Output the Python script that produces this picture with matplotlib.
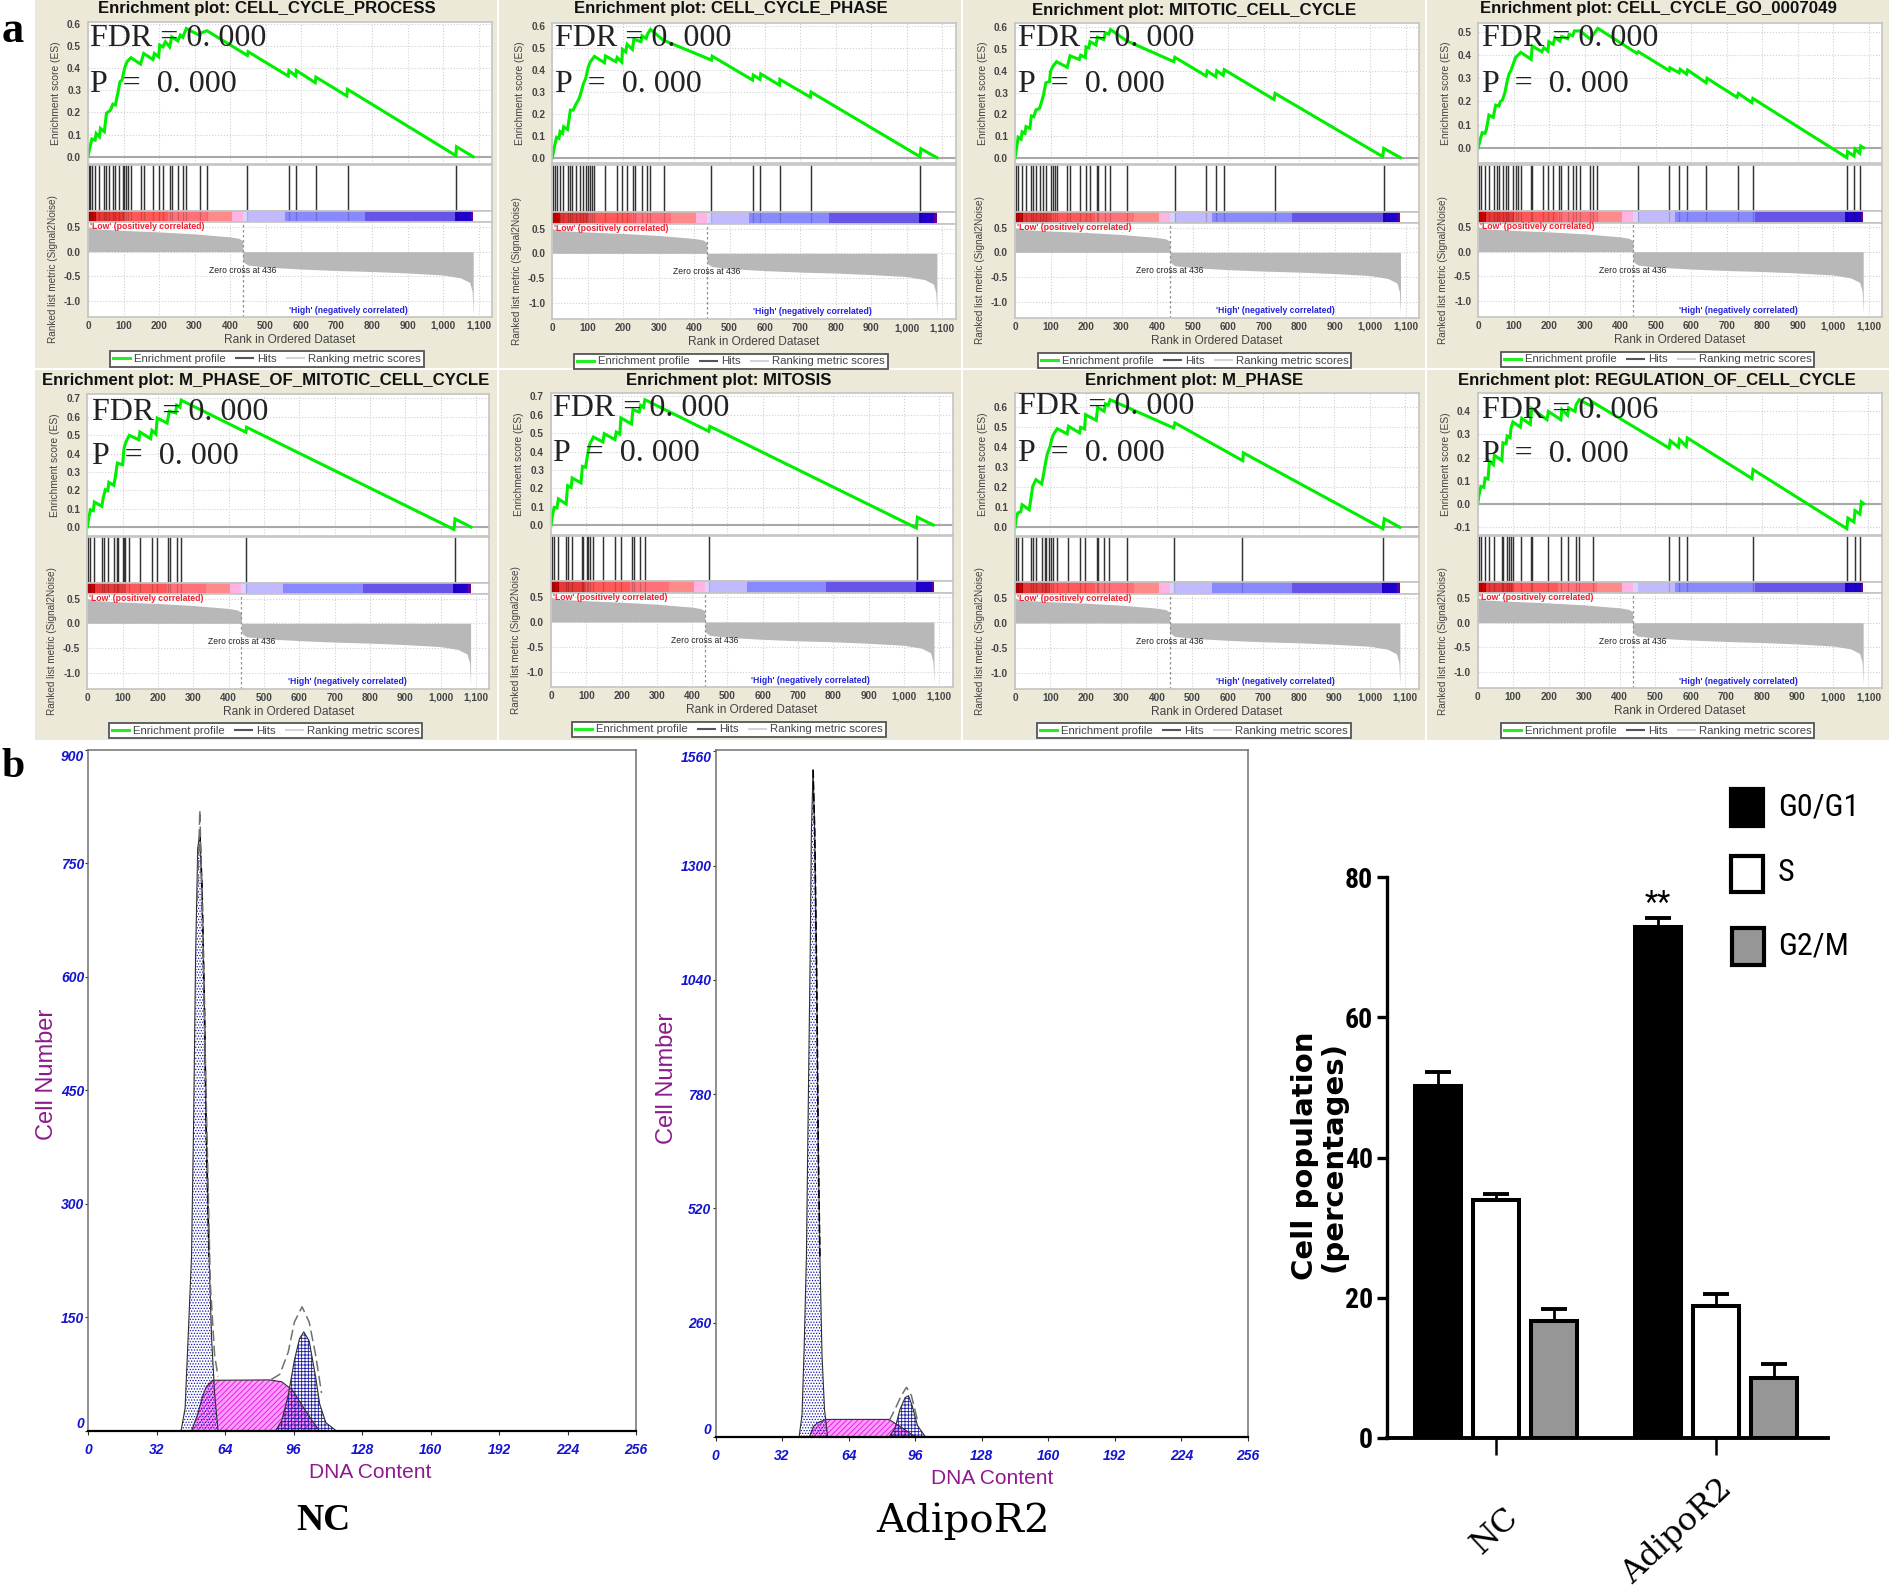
import matplotlib
matplotlib.use('Agg')
import matplotlib.pyplot as plt
from matplotlib import font_manager
from matplotlib.lines import Line2D
from matplotlib.patches import Rectangle
from matplotlib.ticker import FuncFormatter

W, H = 1889, 1593

# ---- panel a
TITLES = ['CELL_CYCLE_PROCESS', 'CELL_CYCLE_PHASE', 'MITOTIC_CELL_CYCLE', 'CELL_CYCLE_GO_0007049',
          'M_PHASE_OF_MITOTIC_CELL_CYCLE', 'MITOSIS', 'M_PHASE', 'REGULATION_OF_CELL_CYCLE']
FDR = ['0. 000', '0. 000', '0. 000', '0. 000', '0. 000', '0. 000', '0. 000', '0. 006']
PVAL = ['0. 000'] * 8

ES_PROCESS = [(0, 0), (5, .04), (11, .08), (20, .075), (23, .105), (32, .09), (35, .128), (46, .113), (52, .197),
              (63, .21), (70, .238), (77, .234), (84, .286), (90, .339), (96, .347), (103, .40), (110, .43), (121, .448),
              (148, .419), (157, .467), (183, .44), (187, .467), (199, .452), (202, .505), (211, .497), (218, .52),
              (230, .497), (236, .542), (253, .524), (260, .55), (267, .54), (277, .58), (315, .548), (318, .56),
              (335, .57), (449, .458), (451, .475), (564, .365), (566, .39), (585, .365), (587, .39), (640, .335),
              (642, .36), (729, .275), (731, .305), (1036, .005), (1038, .045), (1085, 0)]
ES_PHASE = [(0, 0), (6, .05), (12, .093), (19, .088), (22, .119), (29, .111), (32, .141), (43, .129), (51, .217),
            (59, .217), (67, .245), (74, .264), (79, .286), (88, .339), (94, .36), (102, .416), (108, .439), (119, .462),
            (147, .433), (150, .464), (179, .438), (183, .457), (196, .436), (198, .494), (207, .483), (211, .517),
            (226, .494), (230, .54), (250, .529), (253, .556), (265, .544), (268, .562), (277, .585), (313, .536),
            (449, .445), (451, .463), (565, .354), (567, .377), (586, .357), (588, .382), (641, .331), (642, .357),
            (728, .276), (730, .299), (1037, .005), (1040, .041), (1085, 0)]
ES_MITOTIC = [(0, 0), (5, .05), (9, .094), (17, .085), (20, .119), (28, .112), (31, .143), (42, .135), (46, .192),
              (53, .189), (59, .22), (69, .227), (75, .258), (80, .288), (87, .345), (97, .35), (100, .396), (106, .419),
              (117, .442), (147, .416), (155, .469), (181, .452), (185, .472), (198, .461), (200, .51), (208, .505),
              (211, .534), (228, .519), (232, .554), (250, .544), (254, .575), (264, .569), (269, .59), (314, .538),
              (447, .442), (450, .462), (538, .376), (541, .399), (565, .373), (568, .4), (586, .379), (589, .405),
              (729, .268), (732, .296), (1035, .005), (1038, .043), (1085, 0)]
ES_GO = [(0, 0), (5, .033), (11, .065), (19, .062), (23, .08), (30, .141), (42, .131), (49, .184), (58, .18), (62, .199),
         (68, .206), (75, .238), (81, .285), (87, .32), (92, .333), (99, .364), (105, .39), (120, .412), (149, .382),
         (152, .44), (179, .415), (185, .432), (196, .418), (199, .458), (211, .447), (216, .476), (230, .461), (235, .481),
         (252, .471), (256, .49), (266, .484), (271, .505), (287, .505), (315, .47), (337, .516), (447, .408), (451, .415),
         (538, .333), (540, .346), (566, .324), (569, .339), (587, .318), (590, .336), (642, .281), (645, .3), (729, .218),
         (733, .235), (771, .195), (774, .213), (1039, -.043), (1041, -.017), (1059, -.036), (1062, -.006), (1075, -.024),
         (1078, .007), (1086, 0)]
ES_MPHASE_MIT = [(0, 0), (4, .049), (9, .094), (17, .089), (20, .136), (41, .113), (45, .158), (51, .203), (58, .198),
                 (61, .243), (75, .227), (79, .267), (85, .348), (100, .339), (104, .43), (110, .466), (119, .499),
                 (146, .475), (149, .517), (179, .481), (183, .526), (194, .506), (198, .593), (226, .566), (232, .63),
                 (250, .621), (253, .663), (262, .652), (266, .69), (449, .516), (451, .543), (1038, -.013), (1041, .044),
                 (1086, 0)]
ES_MITOSIS = [(0, 0), (4, .051), (9, .096), (17, .093), (21, .142), (43, .114), (47, .214), (57, .205), (60, .256),
              (85, .229), (89, .319), (98, .314), (104, .387), (110, .441), (120, .479), (147, .452), (151, .497),
              (181, .465), (185, .506), (195, .495), (198, .583), (228, .55), (232, .628), (250, .615), (254, .651),
              (262, .64), (266, .682), (447, .51), (450, .537), (1035, -.016), (1038, .042), (1083, 0)]
ES_MPHASE = [(0, 0), (3, .043), (8, .072), (16, .077), (20, .113), (40, .088), (44, .133), (50, .205), (59, .238),
             (75, .217), (80, .26), (86, .322), (91, .367), (99, .405), (103, .438), (108, .463), (119, .493), (147, .467),
             (151, .505), (182, .472), (185, .5), (196, .492), (199, .563), (229, .535), (233, .6), (251, .58), (255, .617),
             (263, .61), (268, .638), (447, .497), (451, .522), (642, .333), (644, .372), (1037, -.007), (1041, .043),
             (1085, 0)]
ES_REG = [(0, 0), (4, .039), (9, .075), (17, .071), (21, .111), (29, .107), (33, .184), (44, .169), (47, .21), (68, .187),
          (71, .264), (80, .26), (83, .293), (91, .286), (94, .329), (99, .354), (120, .332), (124, .37), (148, .344),
          (152, .413), (195, .364), (199, .4), (234, .364), (237, .408), (253, .383), (256, .415), (274, .4), (277, .429),
          (286, .451), (322, .421), (324, .44), (539, .241), (542, .273), (565, .245), (568, .278), (587, .249), (590, .285),
          (772, .109), (775, .148), (1039, -.108), (1042, -.062), (1059, -.079), (1062, -.03), (1076, -.045), (1080, .007),
          (1086, 0)]

HITS_PROCESS = [2, 7, 11, 21, 32, 46, 52, 58, 70, 77, 86, 98, 102, 108, 112, 121, 150, 157, 183, 199, 211, 230, 236, 253,
                267, 277, 316, 335, 449, 566, 587, 642, 731, 1038]
HITS_PHASE = [3, 8, 14, 22, 31, 43, 50, 56, 67, 78, 87, 94, 100, 106, 111, 119, 149, 182, 198, 211, 229, 233, 252, 266,
              276, 315, 449, 566, 587, 642, 730, 1038]
HITS_MITOTIC = [3, 9, 19, 30, 44, 50, 59, 70, 78, 87, 100, 106, 113, 119, 147, 155, 183, 199, 211, 230, 235, 253, 266,
                316, 449, 538, 566, 587, 731, 1038]
HITS_GO = [3, 9, 19, 30, 44, 52, 58, 69, 78, 85, 99, 105, 111, 120, 148, 152, 181, 197, 211, 228, 233, 254, 266, 275, 286,
           315, 322, 335, 449, 538, 567, 587, 642, 731, 773, 1039, 1060, 1076]
HITS_MPHASE_MIT = [3, 9, 20, 43, 48, 59, 76, 85, 88, 100, 104, 108, 119, 148, 182, 198, 229, 234, 253, 266, 449, 1040]
HITS_MITOSIS = [2, 8, 21, 43, 49, 60, 87, 90, 101, 106, 110, 120, 148, 182, 198, 230, 235, 253, 266, 449, 1038]
HITS_MPHASE = [3, 9, 21, 44, 50, 59, 77, 84, 87, 97, 101, 108, 119, 148, 183, 197, 230, 235, 251, 265, 315, 447, 641, 1037]
HITS_REG = [3, 9, 21, 32, 45, 69, 72, 82, 88, 94, 99, 121, 150, 152, 198, 235, 254, 276, 284, 324, 539, 567, 589, 774,
            1040, 1061, 1077]

ES_ALL = [ES_PROCESS, ES_PHASE, ES_MITOTIC, ES_GO, ES_MPHASE_MIT, ES_MITOSIS, ES_MPHASE, ES_REG]
HITS_ALL = [HITS_PROCESS, HITS_PHASE, HITS_MITOTIC, HITS_GO, HITS_MPHASE_MIT, HITS_MITOSIS, HITS_MPHASE, HITS_REG]

# ranked metric, same for every panel
METRIC_POS_X = [0, 20, 100, 200, 300, 400, 425, 436]
METRIC_POS_Y = [.50, .46, .43, .40, .36, .30, .27, .22]
METRIC_NEG_X = [436, 440, 450, 500, 600, 700, 800, 900, 1000, 1050, 1075, 1082, 1085]
METRIC_NEG_Y = [-.16, -.22, -.27, -.31, -.35, -.38, -.40, -.43, -.47, -.53, -.62, -.80, -1.25]

BAND_EDGES = [0, 22, 100, 225, 335, 405, 436, 450, 555, 780, 1035, 1078, 1085]
BAND_COLORS = ['#cc0000', '#e83838', '#ff5858', '#ff7078', '#ff8a8a', '#ffb4e4', '#d8d4ff', '#c2baff', '#8888ff',
               '#6655e8', '#2200cc', '#660099']

# ---- panel b, flow cytometry histograms
NC_G1_X = [43.3, 45.2, 46.6, 48.2, 49.2, 50.1, 51.1, 52.1, 53.1, 54.3, 55, 56.4, 57.6, 59, 60.6]
NC_G1_Y = [0, 30, 122, 230, 410, 625, 770, 790, 720, 553, 410, 230, 122, 50, 0]
NC_S_X = [48.2, 51.1, 53.1, 55, 58, 84.6, 90.4, 95.4, 100.3, 105.2, 108.1]
NC_S_Y = [0, 22, 43, 58, 67, 67.5, 65, 54, 32, 11, 0]
NC_G2_X = [87.5, 90.4, 93.4, 96.3, 98.7, 100.7, 103.2, 106.2, 108.1, 111, 116]
NC_G2_Y = [0, 14, 47, 93.5, 122, 131, 119, 72, 36, 11, 0]
NC_FIT1_X = [50.9, 52.1, 53.1, 55, 57, 59, 60.6]
NC_FIT1_Y = [700, 820, 700, 446, 194, 100, 72]
NC_FIT2_X = [85.5, 89.5, 93.4, 96.3, 99.9, 103.2, 106.2, 109]
NC_FIT2_Y = [68, 75, 104, 144, 164, 144, 101, 50]

AD_G1_X = [40.2, 41.6, 42.6, 43.7, 44.5, 45.5, 46.1, 46.9, 47.7, 48.7, 49.4, 50.2, 51.2, 52.4, 53.9]
AD_G1_Y = [0, 51, 199, 409, 719, 1091, 1376, 1518, 1376, 1028, 656, 409, 187, 63, 0]
AD_S_X = [45.1, 47.1, 49, 53, 83.4, 87.3, 91.2, 96.1]
AD_S_Y = [0, 24, 32, 40, 40, 28, 16, 0]
AD_G2_X = [83.4, 86.3, 88.7, 91.2, 92.8, 94.7, 97.1, 101]
AD_G2_Y = [0, 20, 63, 90, 94, 69, 26, 0]
AD_FIT2_X = [83.4, 86.3, 89.3, 91.8, 94.2, 97.1]
AD_FIT2_Y = [36, 63, 94, 113, 94, 38]

NC_YTICKS = [0, 150, 300, 450, 600, 750, 900]
AD_YTICKS = [0, 260, 520, 780, 1040, 1300, 1560]
DNA_TICKS = [0, 32, 64, 96, 128, 160, 192, 224, 256]

# ---- panel b, bars
GROUPS = ['NC', 'AdipoR2']
PHASES = ['G0/G1', 'S', 'G2/M']
G0G1 = [50.2, 72.8]
S_PHASE = [33.9, 18.8]
G2M = [16.7, 8.6]
G0G1_ERR = [2.0, 1.4]
S_ERR = [0.9, 1.7]
G2M_ERR = [1.7, 2.0]
BAR_TICKS = [0, 20, 40, 60, 80]

# left, right, es_top, es_zero, es_rate, es_bottom, band_top, band_bottom, metric_bottom, metric_zero (pixels)
LAYOUT = [(88, 492, 22.5, 156.7, 221, 163.5, 210.7, 222.3, 316.7, 251.7),
          (552.3, 955.7, 22.7, 157.7, 219.3, 163.3, 212.3, 224, 319, 253.3),
          (1015, 1419.3, 23.3, 157.7, 217.3, 163.5, 212, 223.3, 317.7, 252.3),
          (1478.3, 1882, 22.7, 147.7, 231.3, 163.3, 211.3, 222.7, 317.3, 251.7),
          (87.3, 489.3, 394, 527, 183.7, 535.7, 582.7, 594, 688.7, 623.3),
          (551, 952.7, 393, 525, 183.7, 534.7, 581.3, 593, 687.3, 622),
          (1015, 1418.7, 393, 527.3, 200, 535.7, 582, 593.7, 688.7, 623),
          (1477.7, 1882, 393, 503.7, 230.7, 534.7, 582, 593.3, 688, 622.7)]
BEIGE = [(35, 0, 497, 368), (499, 0, 961, 368), (963, 0, 1425, 368), (1427, 0, 1889, 368),
         (35, 370, 497, 740), (499, 370, 961, 740), (963, 370, 1425, 740), (1427, 370, 1889, 740)]
TITLE_POS = [(267, 9), (731, 9), (1194, 10), (1658, 9), (266, 381), (729, 380), (1194, 380), (1657, 380)]
FDR_POS = [(90, 38, 84), (555, 38, 84), (1018, 38, 84), (1482, 38, 84),
           (92, 412, 457), (553, 408, 453), (1018, 407, 453), (1482, 410, 455)]
LEGEND_POS = [(267, 359), (731, 361.5), (1194.5, 360.5), (1657.5, 359.5),
              (265.5, 730.5), (729, 729.5), (1194, 730.5), (1657.5, 730.5)]

SANS = ['Liberation Sans', 'DejaVu Sans']
SERIF = ['Liberation Serif', 'DejaVu Serif']
SLAB = ['DejaVu Serif']
GRAY_TXT = '#444444'
SPINE_GRAY = '#c4c4c4'
XMAX = 1138
METRIC_RATE = 49.5

# bar chart text is condensed in the figure, use a narrow face when there is one
installed = {f.name for f in font_manager.fontManager.ttflist}
NARROW = SANS
narrow_found = False
for name in ['Liberation Sans Narrow', 'Roboto Condensed', 'Open Sans Condensed', 'DejaVu Sans Condensed']:
    if name in installed:
        NARROW = [name] + SANS
        narrow_found = True
        break
TICK_SIZE = 20 if narrow_found else 16
LEG_SIZE = 23 if narrow_found else 19

plt.rcParams['font.family'] = SANS
plt.rcParams['hatch.linewidth'] = 0.6

fig = plt.figure(figsize=(W / 100, H / 100), dpi=100, facecolor='white')


def axes_px(left, top, right, bottom):
    return fig.add_axes([left / W, 1 - bottom / H, (right - left) / W, (bottom - top) / H])


def text_px(x, y, s, **kw):
    kw.setdefault('ha', 'center')
    kw.setdefault('va', 'center')
    return fig.text(x / W, 1 - y / H, s, **kw)


def gsea_axes(ax):
    for sp in ax.spines.values():
        sp.set_color(SPINE_GRAY)
        sp.set_linewidth(1.2)
    ax.set_xlim(0, XMAX)
    ax.set_axisbelow(True)


def gsea_panel(i):
    left, right, es_top, es_zero, es_rate, es_bot, band_top, band_bot, m_bot, m_zero = LAYOUT[i]
    x0, y0, x1, y1 = BEIGE[i]
    fig.add_artist(Rectangle((x0 / W, 1 - y1 / H), (x1 - x0) / W, (y1 - y0) / H, transform=fig.transFigure,
                             facecolor='#ece9d8', edgecolor='none', zorder=-1))
    text_px(TITLE_POS[i][0], TITLE_POS[i][1], 'Enrichment plot: ' + TITLES[i], fontsize=12.1, fontweight='bold',
            color='#111111')

    # running enrichment score
    ax = axes_px(left, es_top, right, es_bot)
    gsea_axes(ax)
    ax.set_ylim((es_zero - es_bot) / es_rate, (es_zero - es_top) / es_rate)
    ax.grid(True, ls=':', color='#d0d0d0', lw=0.8)
    ax.axhline(0, color='#a8a8a8', lw=1.5)
    rank = [p[0] for p in ES_ALL[i]]
    score = [p[1] for p in ES_ALL[i]]
    ax.plot(rank, score, color='#00ee00', lw=2.2, solid_joinstyle='miter')
    ticks = [t / 10 for t in range(-1, 8) if ax.get_ylim()[0] <= t / 10 <= ax.get_ylim()[1]]
    ax.set_yticks(ticks)
    ax.set_yticklabels(['%.1f' % t for t in ticks], fontsize=7.2, fontweight='bold', color=GRAY_TXT)
    ax.set_xticks(range(0, 1101, 100))
    ax.tick_params(axis='x', length=0, labelbottom=False)
    ax.tick_params(axis='y', length=0, pad=5)
    ax.set_ylabel('Enrichment score (ES)', fontsize=7.4, color=GRAY_TXT)
    ax.yaxis.set_label_coords(-27 / (right - left), 0.5)

    # hit marks
    ax = axes_px(left, es_bot + 1.5, right, band_top)
    gsea_axes(ax)
    ax.set_ylim(0, 1)
    ax.set_xticks([])
    ax.set_yticks([])
    ax.vlines(HITS_ALL[i], 0, 1, color='#333333', lw=1.05)

    # colour band
    ax = axes_px(left, band_top, right, band_bot)
    gsea_axes(ax)
    ax.set_ylim(0, 1)
    ax.set_xticks([])
    ax.set_yticks([])
    ax.bar(BAND_EDGES[:-1], 1, width=[b - a for a, b in zip(BAND_EDGES[:-1], BAND_EDGES[1:])], align='edge',
           color=BAND_COLORS, lw=0)
    ax.vlines(HITS_ALL[i], 0, 1, color='#000000', lw=0.9, alpha=0.18)

    # ranked metric
    ax = axes_px(left, band_bot, right, m_bot)
    gsea_axes(ax)
    ax.set_ylim((m_zero - m_bot) / METRIC_RATE, (m_zero - band_bot) / METRIC_RATE)
    ax.grid(True, ls=':', color='#d0d0d0', lw=0.8)
    ax.fill_between(METRIC_POS_X, METRIC_POS_Y, 0, color='#b8b8b8', lw=0)
    ax.fill_between(METRIC_NEG_X, METRIC_NEG_Y, 0, color='#b8b8b8', lw=0)
    ax.axvline(436, color='#909090', ls=(0, (2, 2)), lw=0.9)
    ax.set_yticks([.5, 0, -.5, -1])
    ax.set_yticklabels(['0.5', '0.0', '-0.5', '-1.0'], fontsize=7.2, fontweight='bold', color=GRAY_TXT)
    ax.set_xticks(range(0, 1101, 100))
    ax.xaxis.set_major_formatter(FuncFormatter(lambda v, p: '{:,.0f}'.format(v)))
    ax.tick_params(axis='x', length=0, pad=3, labelsize=7.2, labelcolor=GRAY_TXT)
    ax.tick_params(axis='y', length=0, pad=5)
    for lab in ax.get_xticklabels():
        lab.set_fontweight('bold')
    ax.set_xlabel('Rank in Ordered Dataset', fontsize=8.6, color=GRAY_TXT, labelpad=2)
    ax.set_ylabel('Ranked list metric (Signal2Noise)', fontsize=7.2, color=GRAY_TXT)
    ax.yaxis.set_label_coords(-30 / (right - left), 0.5)
    ax.text(5, .5, "'Low' (positively correlated)", fontsize=6.2, fontweight='bold', color='#f02030', va='center')
    ax.text(567, -1.185, "'High' (negatively correlated)", fontsize=6.2, fontweight='bold', color='#2222dd', va='center')
    ax.text(436, -.37, 'Zero cross at 436', fontsize=6.2, color='#222222', ha='center', va='center')

    handles = [Line2D([], [], color='#22ee22', lw=2.2), Line2D([], [], color='#555555', lw=1.5),
               Line2D([], [], color='#d4d4d4', lw=1.5)]
    cx, cy = LEGEND_POS[i]
    fig.legend(handles, ['Enrichment profile', 'Hits', 'Ranking metric scores'], loc='center', ncol=3,
               bbox_to_anchor=(cx / W, 1 - cy / H), fontsize=8.2, labelcolor=GRAY_TXT, fancybox=False, framealpha=1,
               edgecolor='#555555', borderpad=0.25, handlelength=1.5, handletextpad=0.35, columnspacing=0.9,
               borderaxespad=0).get_frame().set_linewidth(1.3)

    fx, fy, py = FDR_POS[i]
    text_px(fx, fy, 'FDR = ' + FDR[i], fontsize=23, family=SERIF, color='#222222', ha='left')
    text_px(fx, py, 'P  =  ' + PVAL[i], fontsize=23, family=SERIF, color='#222222', ha='left')


def flow_panel(box, xmax_y, yticks, g1, s, g2, fit1, fit2):
    ax = axes_px(*box)
    ax.set_xlim(0, 256)
    ax.set_ylim(0, xmax_y)
    ax.fill(s[0], s[1], facecolor='#ff9cff', edgecolor='#e010e0', hatch='//////', lw=0)
    ax.plot(s[0], s[1], color='#303030', lw=0.8)
    ax.fill(g1[0], g1[1], facecolor='none', edgecolor='#1212b0', hatch='......', lw=0)
    ax.plot(g1[0], g1[1], color='#303030', lw=0.8)
    ax.fill(g2[0], g2[1], facecolor='none', edgecolor='#1a1aa0', hatch='+++++', lw=0)
    ax.plot(g2[0], g2[1], color='#303030', lw=0.8)
    ax.plot(g1[0][7:12], g1[1][7:12], color='black', lw=1.2, ls=(0, (5, 2)))
    if fit1:
        ax.plot(fit1[0], fit1[1], color='#707070', lw=1.1, ls=(0, (7, 3)))
    ax.plot(fit2[0], fit2[1], color='#707070', lw=1.1, ls=(0, (7, 3)))
    for side in ['top', 'right', 'left']:
        ax.spines[side].set_color('#707070')
        ax.spines[side].set_linewidth(1.1)
    ax.spines['bottom'].set_color('black')
    ax.spines['bottom'].set_linewidth(1.6)
    ax.set_xticks(DNA_TICKS)
    ax.set_yticks(yticks)
    ax.tick_params(axis='y', length=2, width=0.8, color='#303030', pad=1)
    ax.tick_params(axis='x', length=3, width=0.8, color='#303030', pad=6)
    for lab in ax.get_xticklabels() + ax.get_yticklabels():
        lab.set(color='#1414d2', fontsize=10, fontstyle='italic', fontweight='bold')
    ax.get_yticklabels()[0].set_va('bottom')
    ax.get_yticklabels()[-1].set_va('top')


for n in range(8):
    gsea_panel(n)

text_px(13, 31, 'a', fontsize=32, family=SERIF, fontweight='bold', color='black')
text_px(13, 767, 'b', fontsize=30, family=SERIF, fontweight='bold', color='black')

flow_panel((88.4, 749.8, 636, 1431), 900, NC_YTICKS, (NC_G1_X, NC_G1_Y), (NC_S_X, NC_S_Y), (NC_G2_X, NC_G2_Y),
           (NC_FIT1_X, NC_FIT1_Y), (NC_FIT2_X, NC_FIT2_Y))
flow_panel((715.5, 750, 1248, 1437), 1563, AD_YTICKS, (AD_G1_X, AD_G1_Y), (AD_S_X, AD_S_Y), (AD_G2_X, AD_G2_Y),
           None, (AD_FIT2_X, AD_FIT2_Y))

PURPLE = '#8e1a8e'
text_px(47, 1074, 'Cell Number', fontsize=17, color=PURPLE, rotation=90)
text_px(667, 1078, 'Cell Number', fontsize=17, color=PURPLE, rotation=90)
text_px(370, 1472, 'DNA Content', fontsize=15, color=PURPLE)
text_px(992, 1478, 'DNA Content', fontsize=15, color=PURPLE)
text_px(323, 1521, 'NC', fontsize=27, family=SERIF, fontweight='bold', color='black')
text_px(963, 1521, 'AdipoR2', fontsize=29, family=SLAB, color='black')

# bars
ax = axes_px(1387, 877, 1828, 1438)
ax.set_xlim(-0.495, 1.509)
ax.set_ylim(0, 80)
bar_w = 0.21
offs = 0.2636
edge = 2.9
ax.bar([g - offs for g in range(2)], G0G1, bar_w, color='black', edgecolor='black', lw=edge)
ax.bar(range(2), S_PHASE, bar_w, color='white', edgecolor='black', lw=edge)
ax.bar([g + offs for g in range(2)], G2M, bar_w, color='#969696', edgecolor='black', lw=edge)
ax.errorbar([g - offs for g in range(2)], G0G1, yerr=[[0, 0], G0G1_ERR], fmt='none', ecolor='black', elinewidth=2,
            capsize=9.5, capthick=2.8)
ax.errorbar(range(2), S_PHASE, yerr=[[0, 0], S_ERR], fmt='none', ecolor='black', elinewidth=2, capsize=9.5, capthick=2.8)
ax.errorbar([g + offs for g in range(2)], G2M, yerr=[[0, 0], G2M_ERR], fmt='none', ecolor='black', elinewidth=2,
            capsize=9.5, capthick=2.8)
ax.spines['top'].set_visible(False)
ax.spines['right'].set_visible(False)
ax.spines['left'].set_linewidth(2.4)
ax.spines['bottom'].set_linewidth(2.8)
ax.set_yticks(BAR_TICKS)
ax.set_yticklabels([str(t) for t in BAR_TICKS], fontsize=TICK_SIZE, family=NARROW, fontweight='bold')
ax.set_xticks(range(2))
ax.set_xticklabels([])
ax.tick_params(axis='y', length=7.2, width=2.4, pad=3)
ax.tick_params(axis='x', length=12, width=1.8)
ax.annotate(GROUPS[0], xy=(0, 0), xytext=(-1, -93), textcoords='offset pixels', rotation=43, fontsize=23, family=SLAB,
            ha='center', va='center', annotation_clip=False)
ax.annotate(GROUPS[1], xy=(1, 0), xytext=(-39, -93), textcoords='offset pixels', rotation=43, fontsize=23, family=SLAB,
            ha='center', va='center', annotation_clip=False)
ax.annotate('**', xy=(1 - offs, G0G1[1] + G0G1_ERR[1]), xytext=(0, 14), textcoords='offset pixels', fontsize=22,
            ha='center', va='center', family=NARROW)

text_px(1305, 1156, 'Cell population', fontsize=21, family=['DejaVu Sans'], fontweight='bold', rotation=90)
text_px(1334, 1156, '(percentages)', fontsize=21, family=['DejaVu Sans'], fontweight='bold', rotation=90)

# hand placed legend like in the figure
SWATCHES = [(1731, 789, 1763, 826, 'black'), (1731, 856, 1763, 892, 'white'), (1732, 928, 1764, 965, '#969696')]
for (x0, y0, x1, y1, col), name, ty in zip(SWATCHES, PHASES, [807, 873, 946]):
    fig.add_artist(Rectangle((x0 / W, 1 - y1 / H), (x1 - x0) / W, (y1 - y0) / H, transform=fig.transFigure,
                             facecolor=col, edgecolor='black', lw=3))
    text_px(1778, ty, name, fontsize=LEG_SIZE, family=NARROW, ha='left')

fig.savefig('out.png', dpi=100, facecolor='white')
plt.close()
